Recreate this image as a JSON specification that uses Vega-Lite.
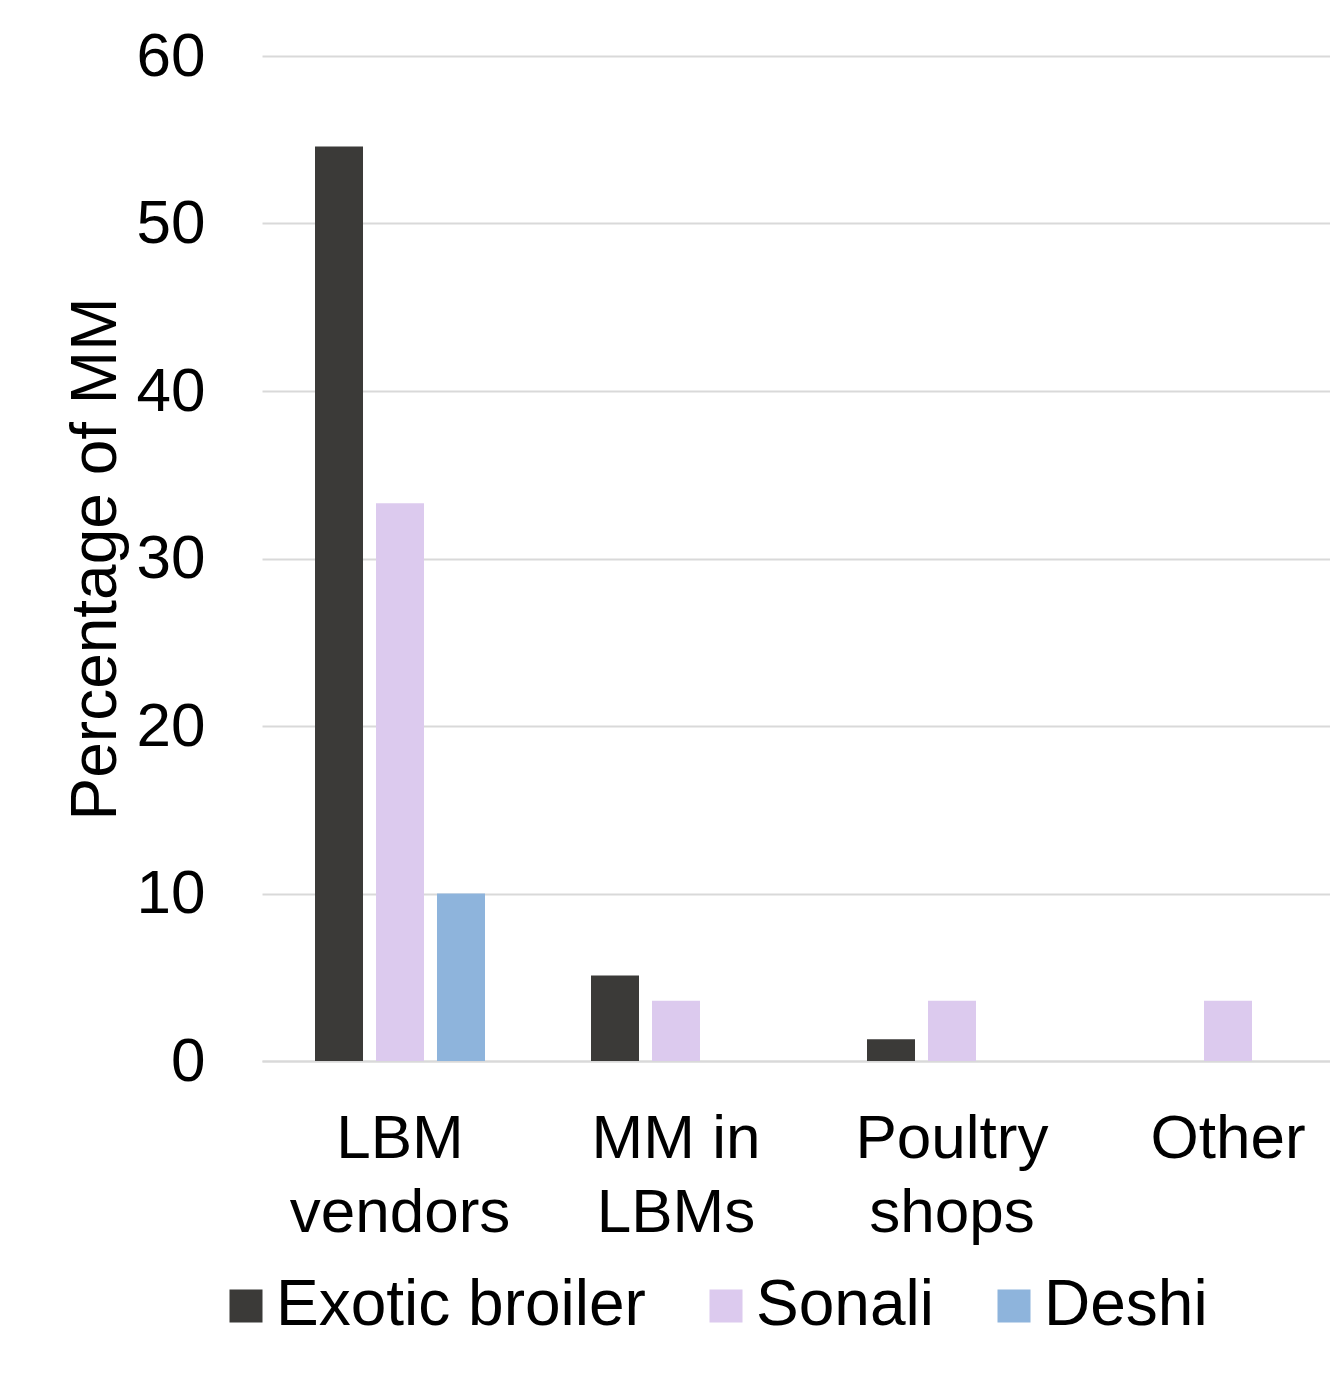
{
  "$schema": "https://vega.github.io/schema/vega-lite/v6.json",
  "autosize": {"type": "none"},
  "padding": {"left": 262, "top": 56, "right": 0, "bottom": 334},
  "width": 1068,
  "height": 1005,
  "background": "white",
  "data": {
    "values": [
      {"category": "LBM vendors", "breed": "Exotic broiler", "pct": 54.6},
      {"category": "LBM vendors", "breed": "Sonali", "pct": 33.3},
      {"category": "LBM vendors", "breed": "Deshi", "pct": 10.0},
      {"category": "MM in LBMs", "breed": "Exotic broiler", "pct": 5.1},
      {"category": "MM in LBMs", "breed": "Sonali", "pct": 3.6},
      {"category": "Poultry shops", "breed": "Exotic broiler", "pct": 1.3},
      {"category": "Poultry shops", "breed": "Sonali", "pct": 3.6},
      {"category": "Other", "breed": "Sonali", "pct": 3.6}
    ]
  },
  "mark": {"type": "bar"},
  "encoding": {
    "x": {
      "field": "category",
      "type": "nominal",
      "sort": ["LBM vendors", "MM in LBMs", "Poultry shops", "Other"],
      "scale": {"range": [0, 1104], "paddingInner": 0, "paddingOuter": 0},
      "axis": {
        "title": null,
        "labelAngle": 0,
        "labelFont": "Liberation Sans",
        "labelFontSize": 62,
        "labelColor": "#000000",
        "labelPadding": 47,
        "labelLineHeight": 74,
        "labelBaseline": "top",
        "labelLimit": 600,
        "ticks": false,
        "domain": true,
        "domainColor": "#d9d9d9",
        "domainWidth": 2,
        "labelExpr": "datum.label == 'Other' ? 'Other' : datum.label == 'MM in LBMs' ? ['MM in', 'LBMs'] : split(datum.label, ' ')"
      }
    },
    "xOffset": {
      "field": "breed",
      "type": "nominal",
      "sort": ["Exotic broiler", "Sonali", "Deshi"],
      "scale": {"paddingInner": 0.213, "paddingOuter": 0.869}
    },
    "y": {
      "field": "pct",
      "type": "quantitative",
      "scale": {"domain": [0, 60], "nice": false},
      "axis": {
        "title": "Percentage of MM",
        "titleFont": "Liberation Sans",
        "titleFontSize": 64,
        "titleFontWeight": "normal",
        "titleColor": "#000000",
        "titlePadding": 8,
        "values": [0, 10, 20, 30, 40, 50, 60],
        "labelFont": "Liberation Sans",
        "labelFontSize": 62,
        "labelColor": "#000000",
        "labelPadding": 57,
        "ticks": false,
        "domain": false,
        "grid": true,
        "gridColor": "#d9d9d9",
        "gridWidth": 2
      }
    },
    "color": {
      "field": "breed",
      "type": "nominal",
      "sort": ["Exotic broiler", "Sonali", "Deshi"],
      "scale": {
        "domain": ["Exotic broiler", "Sonali", "Deshi"],
        "range": ["#3b3a38", "#dccaee", "#8eb4dc"]
      },
      "legend": {
        "title": null,
        "orient": "none",
        "legendX": -48,
        "legendY": 1218,
        "direction": "horizontal",
        "symbolType": "square",
        "symbolSize": 1089,
        "symbolStrokeWidth": 0,
        "labelFont": "Liberation Sans",
        "labelFontSize": 64,
        "labelColor": "#000000",
        "labelOffset": -2,
        "columnPadding": 48,
        "labelLimit": 600
      }
    }
  },
  "config": {
    "view": {"stroke": null}
  }
}
